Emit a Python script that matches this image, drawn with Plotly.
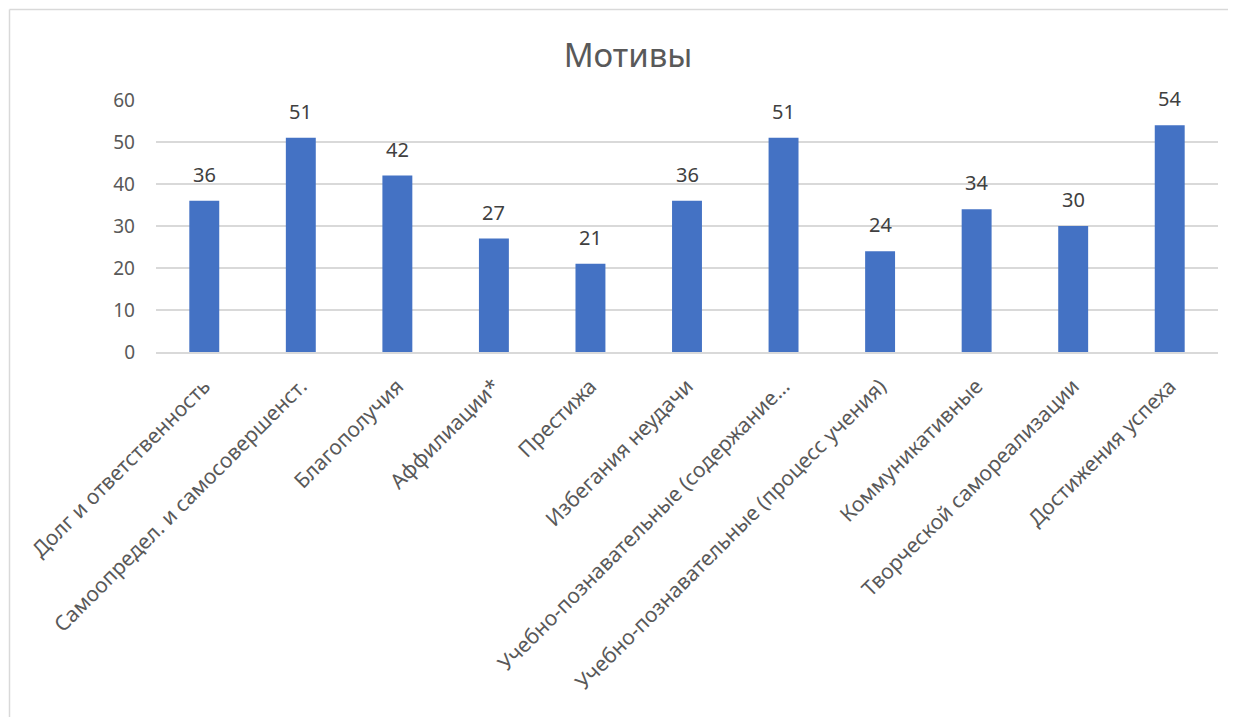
import plotly.graph_objects as go

categories = [
    "Долг и ответственность",
    "Самоопредел. и самосовершенст.",
    "Благополучия",
    "Аффилиации*",
    "Престижа",
    "Избегания неудачи",
    "Учебно-познавательные (содержание…",
    "Учебно-познавательные (процесс учения)",
    "Коммуникативные",
    "Творческой самореализации",
    "Достижения успеха",
]
values = [36, 51, 42, 27, 21, 36, 51, 24, 34, 30, 54]
title_text = "Мотивы"

# page body adds an 8px offset; size the figure to compensate
OFF = 8
W, H = 1236 - OFF, 717 - OFF
L, R, T, B = 156 - OFF, 18, 100 - OFF, 365

FONT = "Noto Sans"
fig = go.Figure()
fig.add_trace(go.Bar(
    x=categories, y=values,
    marker=dict(color="#4472C4", line=dict(width=0)),
    width=0.31,
    showlegend=False,
    hoverinfo="x+y",
))

for c, v in zip(categories, values):
    fig.add_annotation(x=c, y=v, text=str(v), showarrow=False,
                       yanchor="bottom", yshift=11,
                       font=dict(family=FONT, size=20, color="#404040"))

pw = W - L - R
ph = H - T - B
x0 = (1.5 - L) / pw
y_top = 1 + (T - 1.5) / ph
y_bot = -(B + 5) / ph
fig.add_shape(type="line", xref="paper", yref="paper", x0=x0, x1=(W + 5 - L) / pw,
              y0=y_top, y1=y_top, line=dict(color="#D9D9D9", width=1.5))
fig.add_shape(type="line", xref="paper", yref="paper", x0=x0, x1=x0,
              y0=y_bot, y1=y_top, line=dict(color="#D9D9D9", width=1.5))

fig.update_layout(
    width=W, height=H,
    margin=dict(l=L, r=R, t=T, b=B, autoexpand=False),
    paper_bgcolor="white", plot_bgcolor="white",
    title=dict(text=title_text, x=(628 - OFF) / W, xanchor="center", y=1 - (55 - OFF) / H,
               yanchor="middle",
               font=dict(family=FONT, size=33, color="#595959")),
    font=dict(family=FONT, color="#595959"),
    xaxis=dict(tickangle=-45, showgrid=False, showline=True, linecolor="#D9D9D9", linewidth=1.5,
               ticks="", tickfont=dict(family=FONT, size=21, color="#595959"),
               ticklabelstandoff=12, automargin=False),
    yaxis=dict(range=[0, 60], dtick=10, showgrid=True, gridcolor="#D9D9D9", gridwidth=1.5,
               zeroline=False, showline=False, ticks="",
               tickfont=dict(family=FONT, size=19, color="#595959"),
               ticklabelstandoff=20, automargin=False),
)

fig.write_html("out.html")
